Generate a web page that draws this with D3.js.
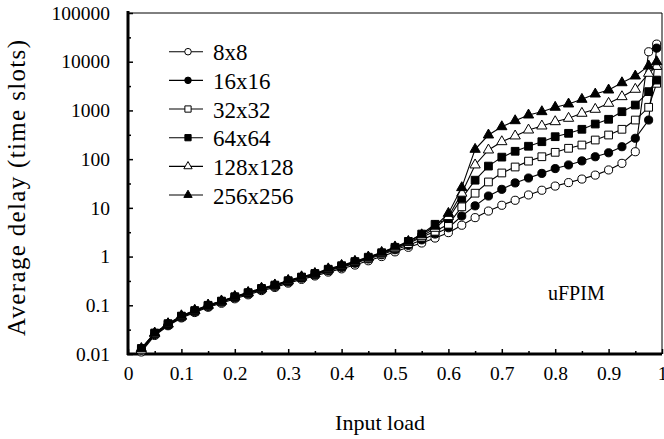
<!DOCTYPE html>
<html>
<head>
<meta charset="utf-8">
<script src="https://cdn.jsdelivr.net/npm/d3@7"></script>
<style>
  body { margin: 0; background: #fff; }
  svg text { font-family: "Liberation Serif", "Times New Roman", Times, serif; fill: #000; }
</style>
</head>
<body>
<svg id="chart" width="664" height="439"></svg>
<script>
// input load (x) for every series
var loads = [0.025,0.05,0.075,0.1,0.125,0.15,0.175,0.2,0.225,0.25,0.275,0.3,0.325,0.35,0.375,0.4,0.425,0.45,0.475,0.5,
  0.525,0.55,0.575,0.6,0.625,0.65,0.675,0.7,0.725,0.75,0.775,0.8,0.825,0.85,0.875,0.9,0.925,0.95,0.975,0.99];

// average delay per switch size
var delay8 = [0.011,0.024,0.038,0.055,0.071,0.091,0.110,0.136,0.164,0.200,0.232,0.285,0.34,0.40,0.48,0.56,0.67,0.82,1.0,1.25,
  1.55,1.9,2.4,3.1,4.4,6.3,8.6,11.3,14.3,18.4,23,28,33,39,47,60,82,142,16000,23000];
var delay16 = [0.012,0.025,0.039,0.057,0.074,0.095,0.116,0.143,0.172,0.21,0.245,0.30,0.36,0.42,0.51,0.60,0.73,0.89,1.09,1.38,
  1.7,2.2,2.9,3.9,6.8,11,17.5,24,32.5,41,51,64,76,92,112,135,180,268,635,19000];
var delay32 = [0.012,0.026,0.040,0.058,0.075,0.097,0.118,0.146,0.176,0.215,0.25,0.31,0.37,0.43,0.53,0.62,0.75,0.92,1.13,1.45,
  1.85,2.5,3.3,4.6,10.5,20,34,52,69,91,112,138,167,195,247,313,410,635,1160,3600];
var delay64 = [0.013,0.027,0.042,0.060,0.078,0.100,0.122,0.150,0.182,0.222,0.26,0.32,0.38,0.45,0.55,0.65,0.79,0.97,1.2,1.55,
  2.05,2.9,4.6,6.0,15.7,37,72,110,145,184,228,289,339,410,526,658,942,1290,2430,4200];
var delay128 = [0.012,0.026,0.041,0.059,0.077,0.099,0.120,0.148,0.179,0.218,0.255,0.315,0.375,0.44,0.54,0.64,0.77,0.95,1.17,1.5,
  1.95,2.6,3.8,6.6,20,76,154,228,299,396,479,587,689,873,1054,1400,1914,2714,5780,8000];
var delay256 = [0.013,0.027,0.042,0.061,0.079,0.101,0.123,0.152,0.184,0.224,0.262,0.325,0.385,0.45,0.56,0.66,0.80,0.98,1.22,1.58,
  2.05,2.8,4.2,7.7,26,159,313,463,615,805,942,1160,1355,1690,2170,2625,3700,5090,8200,10000];

var seriesNames = ["8x8", "16x16", "32x32", "64x64", "128x128", "256x256"];
var xTicks = [0, 0.1, 0.2, 0.3, 0.4, 0.5, 0.6, 0.7, 0.8, 0.9, 1];
var yTicks = [0.01, 0.1, 1, 10, 100, 1000, 10000, 100000];

var series = [
  {name: seriesNames[0], values: delay8,   shape: d3.symbolCircle,   fill: "#fff"},
  {name: seriesNames[1], values: delay16,  shape: d3.symbolCircle,   fill: "#000"},
  {name: seriesNames[2], values: delay32,  shape: d3.symbolSquare,   fill: "#fff"},
  {name: seriesNames[3], values: delay64,  shape: d3.symbolSquare,   fill: "#000"},
  {name: seriesNames[4], values: delay128, shape: d3.symbolTriangle, fill: "#fff"},
  {name: seriesNames[5], values: delay256, shape: d3.symbolTriangle, fill: "#000"}
];

// symbol areas so the shapes look about the same size
function markerSize(shape, big) {
  var s = shape === d3.symbolCircle ? 52 : shape === d3.symbolSquare ? 60 : 46;
  return big ? s : s * 0.65;
}

var serif = '"Liberation Serif", "Times New Roman", Times, serif';
var svg = d3.select("#chart").attr("font-family", serif);

// plot box (window.top is reserved, so not named top)
var plotL = 128, plotR = 662, plotT = 13, plotB = 354;

var x = d3.scaleLinear().domain([0, 1]).range([plotL, plotR]);
var y = d3.scaleLog().domain([0.01, 100000]).range([plotB, plotT]);

// frame: thin top / right
svg.append("line").attr("x1", plotL).attr("x2", plotR).attr("y1", plotT).attr("y2", plotT)
  .attr("stroke", "#000").attr("stroke-width", 1);
svg.append("line").attr("x1", plotR).attr("x2", plotR).attr("y1", plotT).attr("y2", plotB)
  .attr("stroke", "#000").attr("stroke-width", 1);

// minor ticks
var yMinor = yTicks.slice(0, -1).map(function (d) { return d * Math.sqrt(10); });
var xMinor = d3.range(0.05, 1, 0.1);

svg.append("g").attr("transform", "translate(" + plotL + ",0)")
  .call(d3.axisLeft(y).tickValues(yMinor).tickSize(-3).tickFormat(""))
  .call(function (g) { g.select(".domain").remove(); });
svg.append("g").attr("transform", "translate(0," + plotB + ")")
  .call(d3.axisBottom(x).tickValues(xMinor).tickSize(-3).tickFormat(""))
  .call(function (g) { g.select(".domain").remove(); });

// major ticks + labels
var yAxis = svg.append("g").attr("transform", "translate(" + plotL + ",0)")
  .call(d3.axisLeft(y).tickValues(yTicks).tickSize(-5).tickPadding(18).tickFormat(d3.format("~g")));
yAxis.attr("font-family", serif).attr("font-size", 19.5);
yAxis.select(".domain").remove();

var xAxis = svg.append("g").attr("transform", "translate(0," + plotB + ")")
  .call(d3.axisBottom(x).tickValues(xTicks).tickSize(-5).tickPadding(12).tickFormat(d3.format("~g")));
xAxis.attr("font-family", serif).attr("font-size", 19.5);
xAxis.select(".domain").remove();

svg.selectAll(".tick line").attr("stroke", "#000").attr("stroke-width", 1.5);

// thick left / bottom axis lines
svg.append("line").attr("x1", plotL).attr("x2", plotL).attr("y1", plotT - 2).attr("y2", plotB + 1)
  .attr("stroke", "#000").attr("stroke-width", 3);
svg.append("line").attr("x1", plotL - 1).attr("x2", plotR).attr("y1", plotB).attr("y2", plotB)
  .attr("stroke", "#000").attr("stroke-width", 3);

// series
var line = d3.line()
  .x(function (d, i) { return x(loads[i]); })
  .y(function (d) { return y(d); });

series.forEach(function (s) {
  var g = svg.append("g");
  g.append("path")
    .attr("d", line(s.values))
    .attr("fill", "none")
    .attr("stroke", "#000")
    .attr("stroke-width", 1.1);
  g.selectAll("path.mk")
    .data(s.values)
    .enter()
    .append("path")
    .attr("class", "mk")
    .attr("transform", function (d, i) { return "translate(" + x(loads[i]) + "," + y(d) + ")"; })
    .attr("d", d3.symbol().type(s.shape).size(markerSize(s.shape, true)))
    .attr("fill", s.fill)
    .attr("stroke", "#000")
    .attr("stroke-width", 1);
});

// legend
var legendY = d3.scalePoint().domain(seriesNames).range([51.7, 195]);
var legend = svg.append("g");
series.forEach(function (s) {
  var ly = legendY(s.name);
  legend.append("line").attr("x1", 169).attr("x2", 203).attr("y1", ly).attr("y2", ly)
    .attr("stroke", "#000").attr("stroke-width", 1.1);
  legend.append("path")
    .attr("transform", "translate(188," + ly + ")")
    .attr("d", d3.symbol().type(s.shape).size(markerSize(s.shape, false)))
    .attr("fill", s.fill).attr("stroke", "#000").attr("stroke-width", 1);
  legend.append("text")
    .attr("x", 213).attr("y", ly).attr("dy", "0.38em")
    .attr("font-size", 23)
    .text(s.name);
});

// annotation
svg.append("text").attr("x", 548).attr("y", 300)
  .attr("font-size", 20).text("uFPIM");

// axis titles
svg.append("text")
  .attr("x", 380).attr("y", 430)
  .attr("text-anchor", "middle")
  .attr("font-size", 22)
  .text("Input load");

svg.append("text")
  .attr("transform", "translate(25,188) rotate(-90)")
  .attr("text-anchor", "middle")
  .attr("textLength", 296)
  .attr("lengthAdjust", "spacing")
  .attr("font-size", 25)
  .text("Average delay (time slots)");
</script>
</body>
</html>
